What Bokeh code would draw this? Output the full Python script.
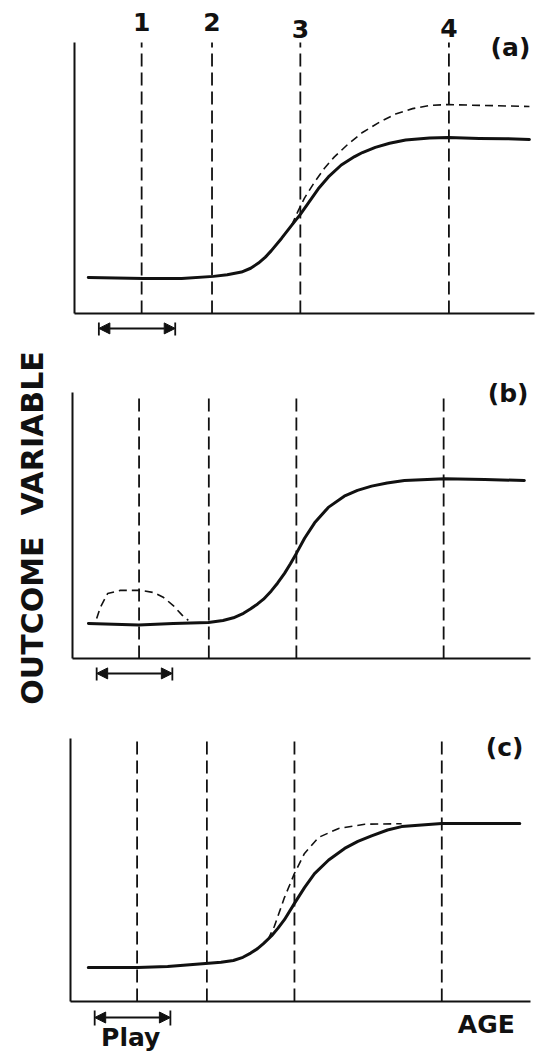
import math
from bokeh.plotting import figure
from bokeh.layouts import row, column
from bokeh.models import Range1d, FixedTicker, Arrow, NormalHead
from bokeh.core.properties import value
from bokeh.embed import file_html
from bokeh.resources import INLINE

# ---------------- data (arbitrary units 0-100) ----------------
age_marks = [14.6, 29.9, 49.1, 81.4]
age_labels = ["1", "2", "3", "4"]
play_period = [5.3, 21.9]
panel_tags = ["(a)", "(b)", "(c)"]

a_solid_x = [3.0, 15.0, 23.3, 30.2, 33.2, 36.3, 38.3, 40.0, 41.5, 42.8, 45.0, 47.2, 49.1, 50.9,
             53.0, 55.2, 58.0, 60.9, 62.6, 65.4, 68.5, 72.0, 77.2, 81.3, 88.0, 93.7, 98.9]
a_solid_y = [13.3, 12.9, 12.9, 13.7, 14.3, 15.3, 16.7, 18.6, 20.8, 23.2, 27.7, 32.5, 36.6, 40.9,
             46.0, 50.4, 54.8, 57.9, 59.4, 61.3, 62.8, 64.0, 64.8, 64.9, 64.6, 64.5, 64.2]
a_dash_x = [47.2, 48.6, 50.0, 52.2, 54.3, 56.5, 59.6, 62.6, 66.3, 69.8, 73.5, 77.2, 81.3, 88.0, 98.9]
a_dash_y = [32.5, 37.8, 42.6, 48.5, 53.5, 57.8, 62.7, 66.8, 70.6, 73.6, 75.6, 76.8, 77.1, 76.8, 76.4]

b_solid_x = [3.5, 14.5, 22.1, 29.8, 33.0, 35.3, 37.5, 39.0, 40.6, 41.9, 43.6, 45.0, 46.5, 47.8,
             49.1, 50.9, 53.1, 56.1, 59.6, 62.5, 65.6, 69.0, 72.8, 81.6, 90.4, 99.1]
b_solid_y = [13.2, 12.6, 13.2, 13.5, 14.3, 15.3, 17.0, 18.6, 20.5, 22.3, 25.4, 28.4, 32.0, 35.6,
             39.5, 45.2, 51.0, 56.8, 61.0, 63.2, 64.8, 66.0, 66.9, 67.6, 67.3, 66.9]
b_dash_x = [5.3, 6.1, 7.7, 10.5, 14.9, 17.8, 20.0, 22.1, 24.1, 25.4]
b_dash_y = [15.0, 19.2, 24.4, 25.6, 25.6, 24.8, 22.9, 19.9, 16.2, 14.3]

c_solid_x = [3.9, 14.7, 21.3, 29.6, 33.0, 35.7, 37.8, 39.5, 41.0, 42.3, 44.1, 45.5, 46.9, 49.1,
             51.3, 53.5, 56.6, 60.1, 63.0, 66.0, 69.5, 72.6, 81.4, 98.5]
c_solid_y = [12.9, 12.9, 13.3, 14.4, 14.9, 15.6, 16.8, 18.4, 20.1, 22.0, 25.0, 27.9, 31.1, 37.3,
             43.3, 48.6, 53.8, 58.2, 60.9, 63.0, 65.2, 66.5, 67.7, 67.7]
c_dash_x = [43.3, 44.7, 46.9, 49.1, 51.3, 54.4, 58.8, 64.5, 72.6]
c_dash_y = [23.5, 28.6, 39.5, 48.7, 56.3, 62.4, 65.8, 67.4, 67.6]

AXIS_TOP = 100

FONT = value("DejaVu Sans")
BLACK = "#111111"


def make_panel(frame_h, xr, yr, solid_x, solid_y, dash_x, dash_y, tag, tag_x, tag_y,
               arrow_y, bar_lo, bar_hi, x_end):
    p = figure(frame_width=479, frame_height=frame_h,
               x_range=Range1d(*xr), y_range=Range1d(*yr),
               output_backend="svg", toolbar_location=None, min_border=0,
               background_fill_color="white", border_fill_color="white")
    p.outline_line_color = None
    p.grid.visible = False
    for ax in (p.xaxis[0], p.yaxis[0]):
        ax.ticker = FixedTicker(ticks=[])
        ax.major_tick_line_color = None
        ax.minor_tick_line_color = None
        ax.major_label_text_font_size = "0px"
        ax.axis_line_color = BLACK
        ax.axis_line_width = 2
        ax.fixed_location = 0
    p.xaxis[0].bounds = (0, x_end)
    p.yaxis[0].bounds = (0, AXIS_TOP)

    # vertical dashed age markers
    p.segment(x0=age_marks, y0=[0] * len(age_marks), x1=age_marks, y1=[AXIS_TOP] * len(age_marks),
              line_color=BLACK, line_width=1.8, line_dash="13 6")
    # curves
    p.line(solid_x, solid_y, line_color=BLACK, line_width=3, line_join="round", line_cap="round")
    p.line(dash_x, dash_y, line_color=BLACK, line_width=1.6, line_dash="8 5")

    # play-period arrow
    head = dict(size=11, fill_color=BLACK, line_color=BLACK, line_width=1)
    p.add_layout(Arrow(start=NormalHead(**head), end=NormalHead(**head),
                       x_start=play_period[0], x_end=play_period[1],
                       y_start=arrow_y, y_end=arrow_y, line_color=BLACK, line_width=2))
    p.segment(x0=play_period, x1=play_period, y0=[bar_lo] * 2, y1=[bar_hi] * 2,
              line_color=BLACK, line_width=1.8)

    p.text(x=[tag_x], y=[tag_y], text=[tag], text_align="right", text_baseline="middle",
           text_font=FONT, text_font_style="bold", text_font_size="25px", text_color=BLACK)
    return p


pa = make_panel(343, (-2.17, 101.96), (-11.07, 115.5), a_solid_x, a_solid_y, a_dash_x, a_dash_y,
                panel_tags[0], 99.1, 98.2, -5.5, -3.3, -8.1, 100.0)
pa.text(x=age_marks, y=[107.7, 107.4, 105.0, 105.4], text=age_labels,
        text_align="center", text_baseline="middle",
        text_font=FONT, text_font_style="bold", text_font_size="25px", text_color=BLACK)

pb = make_panel(347, (-1.754, 103.3), (-12.03, 118.4), b_solid_x, b_solid_y, b_dash_x, b_dash_y,
                panel_tags[1], 100.0, 99.6, -5.6, -3.4, -8.3, 100.4)

pc = make_panel(367, (-1.316, 103.7), (-21.3, 118.25), c_solid_x, c_solid_y, c_dash_x, c_dash_y,
                panel_tags[2], 99.3, 96.6, -6.1, -3.4, -9.1, 100.8)
pc.text(x=[97.4], y=[-8.7], text=["AGE"], text_align="right", text_baseline="middle",
        text_font=FONT, text_font_style="bold", text_font_size="25px", text_color=BLACK)
pc.text(x=[13.2], y=[-13.6], text=["Play"], text_align="center", text_baseline="middle",
        text_font=FONT, text_font_style="bold", text_font_size="25px", text_color=BLACK)

# y-axis title spanning the three panels
lab = figure(width=64, height=1057, x_range=Range1d(0, 1), y_range=Range1d(0, 1),
             output_backend="svg", toolbar_location=None, min_border=0,
             background_fill_color="white", border_fill_color="white")
lab.axis.visible = False
lab.grid.visible = False
lab.outline_line_color = None
lab.text(x=[0.5], y=[0.501], text=["OUTCOME\u00a0\u00a0VARIABLE"], angle=math.pi / 2,
         text_align="center", text_baseline="middle",
         text_font=FONT, text_font_style="bold", text_font_size="30px", text_color=BLACK)

layout = row(lab, column(pa, pb, pc, spacing=0), spacing=0)

with open("out.html", "w") as f:
    f.write(file_html(layout, INLINE))
